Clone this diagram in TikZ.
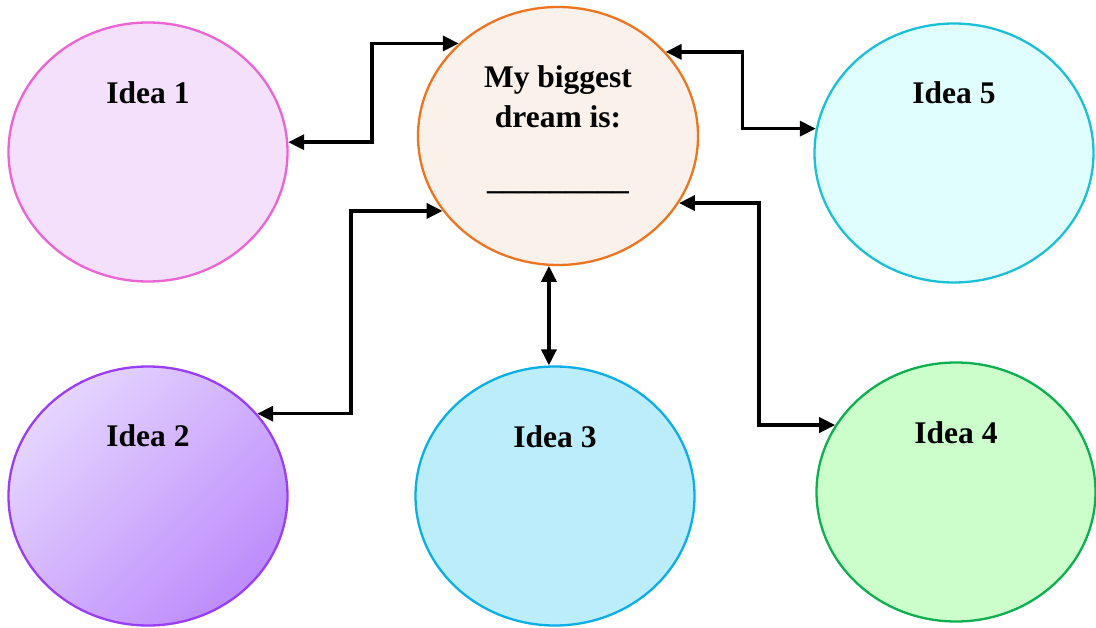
\documentclass[tikz,border=0pt]{standalone}
\usepackage{fontspec}
\setmainfont{Liberation Serif}
\usetikzlibrary{arrows.meta,shapes.geometric,calc}

\definecolor{pinkline}{HTML}{EC63D4}
\definecolor{pinkfill}{HTML}{F5E0FB}
\definecolor{orangeline}{HTML}{EE7420}
\definecolor{orangefill}{HTML}{FBF1EB}
\definecolor{cyanline}{HTML}{1CC0D6}
\definecolor{cyanfill}{HTML}{E0FEFE}
\definecolor{blueline}{HTML}{0AAEE8}
\definecolor{bluefill}{HTML}{BBEDFA}
\definecolor{greenline}{HTML}{0CB04E}
\definecolor{greenfill}{HTML}{CCFECC}
\definecolor{violetline}{HTML}{9A3DF6}
\definecolor{violetlight}{HTML}{E5D5FE}
\definecolor{violetdark}{HTML}{BD8CFC}

\begin{document}
\begin{tikzpicture} [x=1pt,y=-1pt,{ball/.style={ellipse,minimum width=279pt,minimum height=259pt,inner sep=0pt,line width=2.3pt}},{idea/.style={font=\fontsize{31.5}{40}\selectfont\bfseries,text=black}},{link/.style={{Triangle[length=16pt,width=15pt]}-{Triangle[length=16pt,width=15pt]},line width=3.6pt,black}}]
	\useasboundingbox (0,0) rectangle (1096,628);
	%%centre
	\node [ball,minimum width=280pt,minimum height=258pt,draw=orangeline,fill=orangefill,label={[idea,align=center,yshift=6pt]center:{My biggest\\dream is:\\[22pt]\_\_\_\_\_\_\_\_\_}}] (dream) at (558,136) {};
	%%ideas
	\node [ball,draw=pinkline,fill=pinkfill,label={[idea,yshift=59pt]center:Idea 1}] (idea1) at (148,152) {};
	\node [ball,draw=violetline,top color=violetlight,bottom color=violetdark,shading angle=45,label={[idea,yshift=60pt]center:Idea 2}] (idea2) at (148,496) {};
	\node [ball,draw=blueline,fill=bluefill,label={[idea,yshift=59pt]center:Idea 3}] (idea3) at (555,496) {};
	\node [ball,draw=greenline,fill=greenfill,label={[idea,yshift=59pt]center:Idea 4}] (idea4) at (956,492) {};
	\node [ball,draw=cyanline,fill=cyanfill,label={[idea,yshift=60pt]center:Idea 5}] (idea5) at (954,153) {};
	%%links
	\draw [link] (idea1.4) -- ++(84,0) |- (dream.137);
	\draw [link] (idea2.37) -- ++(94,0) |- (dream.213);
	\draw [link] (dream.266) -- (dream.266 |- idea3.north);
	\draw [link] (dream.331) -- ++(80,0) |- (idea4.151);
	\draw [link] (dream.38) -- ++(77,0) |- (idea5.170);
\end{tikzpicture}
\end{document}
